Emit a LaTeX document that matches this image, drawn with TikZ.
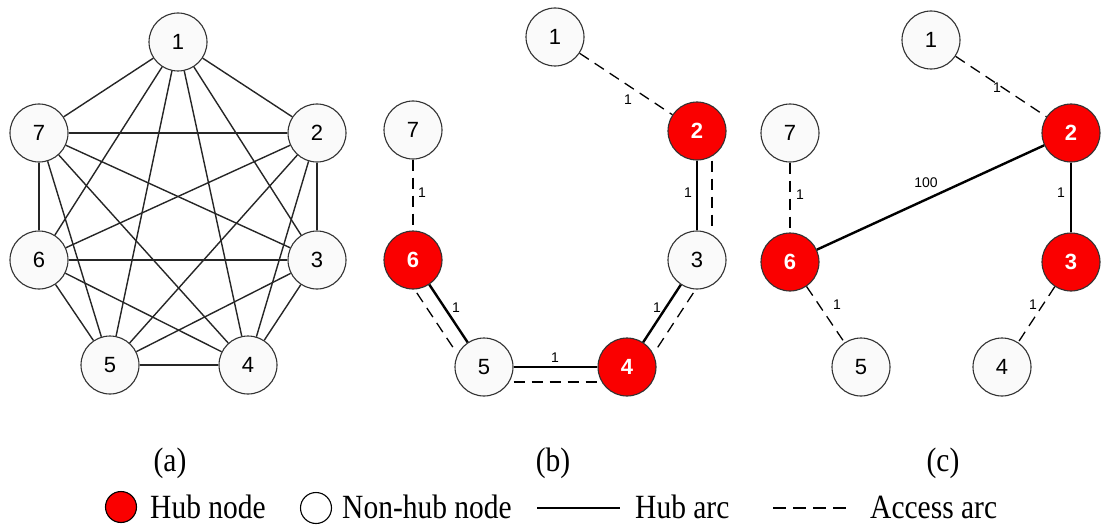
\documentclass[tikz,border=0pt]{standalone}
\usepackage{fontspec}
\setmainfont{Liberation Serif}
\newfontfamily\arialfont{Liberation Sans}
\usetikzlibrary{calc}

\definecolor{hubred}{RGB}{250,0,0}
\definecolor{nodefill}{RGB}{250,250,250}
\definecolor{rimgray}{RGB}{50,50,50}
\def\tall#1{\scalebox{1}[1.15]{#1}}

\tikzset{
	plainnode/.style={circle, draw=rimgray, line width=1.1pt, fill=nodefill, minimum size=58pt, inner sep=0pt, font=\arialfont\fontsize{22}{22}\selectfont},
	hubnode/.style={plainnode, fill=hubred, text=white, font=\arialfont\bfseries\fontsize{22}{22}\selectfont},
	fullarc/.style={line width=1.4pt, draw=black!85},
	hubarc/.style={line width=2.4pt},
	accessarc/.style={line width=1.3pt, dash pattern=on 11pt off 7pt},
	wlabel/.style={font=\arialfont\fontsize{14}{14}\selectfont, inner sep=0pt},
	legendtext/.style={font=\fontsize{29.5}{30}\selectfont, inner sep=0pt, anchor=base west},
	paneltext/.style={font=\fontsize{29.5}{30}\selectfont, inner sep=0pt, anchor=base}
}

\begin{document}
\begin{tikzpicture}[x=1pt, y=-1pt]
			%%%%% START %%%%%
			\useasboundingbox (0, 0) rectangle (1101, 527);
			
			% (a)
			\node[plainnode] (a1) at (178, 42) {1};
			\node[plainnode] (a7) at (39, 133) {7};
			\node[plainnode] (a2) at (317, 133) {2};
			\node[plainnode] (a6) at (39, 260) {6};
			\node[plainnode] (a3) at (317, 260) {3};
			\node[plainnode] (a5) at (110, 365) {5};
			\node[plainnode] (a4) at (248, 365) {4};
			
			\draw[fullarc] (a1) -- (a7);
			\draw[fullarc] (a1) -- (a2);
			\draw[fullarc] (a1) -- (a6);
			\draw[fullarc] (a1) -- (a5);
			\draw[fullarc] (a1) -- (a4);
			\draw[fullarc] (a1) -- (a3);
			\draw[fullarc] (a7) -- (a2);
			\draw[fullarc] (a7) -- (a3);
			\draw[fullarc] (a7) -- (a4);
			\draw[fullarc] (a7) -- (a5);
			\draw[fullarc] (a7) -- (a6);
			\draw[fullarc] (a2) -- (a6);
			\draw[fullarc] (a2) -- (a5);
			\draw[fullarc] (a2) -- (a4);
			\draw[fullarc] (a2) -- (a3);
			\draw[fullarc] (a6) -- (a3);
			\draw[fullarc] (a6) -- (a4);
			\draw[fullarc] (a6) -- (a5);
			\draw[fullarc] (a3) -- (a5);
			\draw[fullarc] (a3) -- (a4);
			\draw[fullarc] (a5) -- (a4);
			
			% (b)
			\node[plainnode] (b1) at (555, 37) {1};
			\node[plainnode] (b7) at (413, 130) {7};
			\node[hubnode] (b2) at (697, 131) {2};
			\node[hubnode] (b6) at (413, 260) {6};
			\node[plainnode] (b3) at (697, 260) {3};
			\node[plainnode] (b5) at (484, 367) {5};
			\node[hubnode] (b4) at (627, 367) {4};
			
			\draw[accessarc] (b1) -- (b2);
			\draw[accessarc] (b7) -- (b6);
			\draw[hubarc] (b2) -- (b3);
			\draw[accessarc, transform canvas={xshift=15pt}] (b2) -- (b3);
			\draw[hubarc] (b3) -- (b4);
			\draw[accessarc, transform canvas={xshift=12.5pt, yshift=-8.2pt}] (b3) -- (b4);
			\draw[hubarc] (b6) -- (b5);
			\draw[accessarc, transform canvas={xshift=-12.5pt, yshift=-8.3pt}] (b6) -- (b5);
			\draw[hubarc] (b5) -- (b4);
			\draw[accessarc, transform canvas={yshift=-15pt}] (b5) -- (b4);
			
			\node[wlabel] (wb12) at (628, 100) {1};
			\node[wlabel] (wb76) at (422, 193) {1};
			\node[wlabel] (wb23) at (688, 193) {1};
			\node[wlabel] (wb34) at (657, 308) {1};
			\node[wlabel] (wb65) at (456, 308) {1};
			\node[wlabel] (wb54) at (555, 358) {1};
			
			% (c)
			\node[plainnode] (c1) at (931, 40) {1};
			\node[plainnode] (c7) at (790, 133) {7};
			\node[hubnode] (c2) at (1071, 133) {2};
			\node[hubnode] (c6) at (790, 262) {6};
			\node[hubnode] (c3) at (1071, 262) {3};
			\node[plainnode] (c5) at (861, 367) {5};
			\node[plainnode] (c4) at (1002, 367) {4};
			
			\draw[accessarc] (c1) -- (c2);
			\draw[accessarc] (c7) -- (c6);
			\draw[hubarc] (c2) -- (c6);
			\draw[hubarc] (c2) -- (c3);
			\draw[accessarc] (c6) -- (c5);
			\draw[accessarc] (c3) -- (c4);
			
			\node[wlabel] (wc12) at (997, 88) {1};
			\node[wlabel] (wc76) at (800, 195) {1};
			\node[wlabel] (wc26) at (926, 183) {100};
			\node[wlabel] (wc23) at (1061, 193) {1};
			\node[wlabel] (wc65) at (837, 305) {1};
			\node[wlabel] (wc34) at (1033, 305) {1};
			
			% captions and legend
			\node[paneltext] (capa) at (170, 471) {\tall{(a)}};
			\node[paneltext] (capb) at (553, 471) {\tall{(b)}};
			\node[paneltext] (capc) at (943, 471) {\tall{(c)}};
			
			\node[circle, draw=black, line width=1.1pt, fill=hubred, minimum size=31pt, inner sep=0pt] (lhub) at (121, 507) {};
			\node[legendtext] (lhubtxt) at (150, 518) {\tall{Hub node}};
			\node[circle, draw=black, line width=1.1pt, fill=white, minimum size=31pt, inner sep=0pt] (lplain) at (316, 508) {};
			\node[legendtext] (lplaintxt) at (342, 518) {\tall{Non-hub node}};
			
			\coordinate (lh1) at (537, 508);
			\coordinate (lh2) at (620, 508);
			\draw[line width=1.6pt] (lh1) -- (lh2);
			\node[legendtext] (lharctxt) at (635, 518) {\tall{Hub arc}};
			
			\coordinate (la1) at (773, 508);
			\coordinate (la2) at (853, 508);
			\draw[line width=1.6pt, dash pattern=on 13pt off 7pt] (la1) -- (la2);
			\node[legendtext] (laarctxt) at (870, 518) {\tall{Access arc}};
			
			%%%%% END %%%%%
\end{tikzpicture}
\end{document}
